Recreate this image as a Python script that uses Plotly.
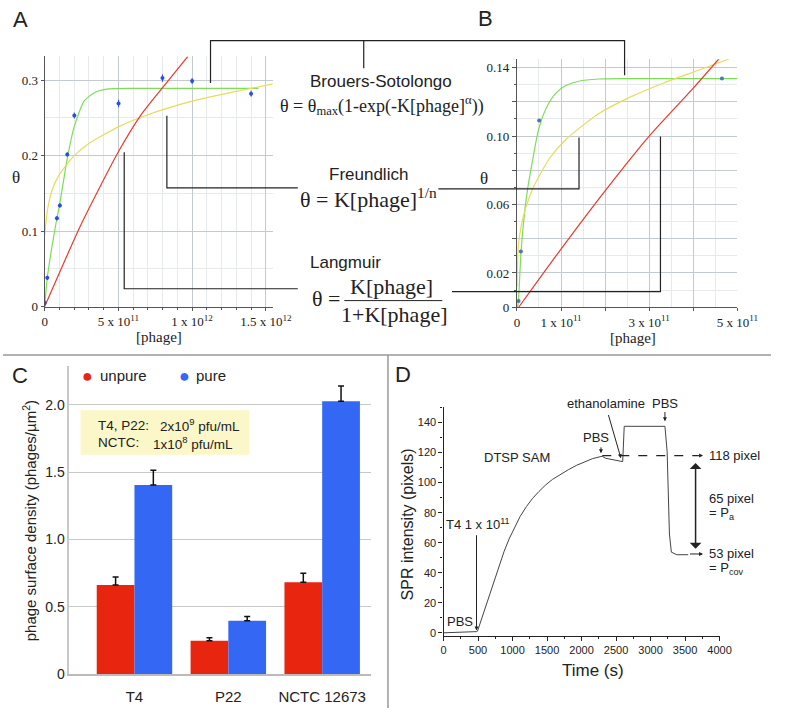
import plotly.graph_objects as go

W, H = 792, 716
SANS = "Liberation Sans, Arial, sans-serif"
SERIF = "Liberation Serif, Times New Roman, serif"


def px(x):
    return x / W


def py(y):
    return 1 - y / H


# ---------------- panel A: adsorption isotherm, theta vs [phage] ----------------
a_x = [0.0, 0.0175e12, 0.083e12, 0.103e12, 0.153e12, 0.201e12, 0.501e12, 0.799e12, 1.0e12, 1.40e12]
a_y = [0.005, 0.038, 0.117, 0.134, 0.2015, 0.253, 0.269, 0.3026, 0.2987, 0.282]
a_err = [0.003, 0.003, 0.003, 0.003, 0.003, 0.004, 0.005, 0.005, 0.004, 0.004]

a_bs_x = [0, 0.0175e12, 0.05e12, 0.083e12, 0.103e12, 0.153e12, 0.2e12, 0.267e12, 0.333e12, 0.42e12, 0.6e12, 1.0e12, 1.45e12]
a_bs_y = [0, 0.038, 0.08, 0.117, 0.137, 0.196, 0.238, 0.272, 0.283, 0.288, 0.289, 0.289, 0.289]

a_fr_x = [0.0005e12, 0.005e12, 0.02e12, 0.05e12, 0.1e12, 0.2e12, 0.3e12, 0.5e12, 0.7e12, 1.0e12, 1.25e12, 1.55e12]
a_fr_y = [0.095, 0.105, 0.129, 0.154, 0.175, 0.2, 0.216, 0.238, 0.254, 0.272, 0.283, 0.295]

a_la_x = [0, 0.25e12, 0.5e12, 0.65e12, 0.8e12, 0.97e12]
a_la_y = [0, 0.11, 0.205, 0.253, 0.29, 0.331]

# ---------------- panel B ----------------
b_x = [0.037e11, 0.089e11, 0.504e11, 4.65e11]
b_y = [0.0037, 0.0325, 0.109, 0.1336]

b_bs_x = [0, 0.02e11, 0.037e11, 0.06e11, 0.089e11, 0.13e11, 0.185e11, 0.26e11, 0.37e11, 0.45e11, 0.504e11,
          0.6e11, 0.74e11, 0.9e11, 1.11e11, 1.4e11, 1.85e11, 2.5e11, 5.0e11]
b_bs_y = [0, 0.001, 0.005, 0.016, 0.031, 0.044, 0.058, 0.072, 0.088, 0.099, 0.105,
          0.1125, 0.12, 0.1255, 0.1295, 0.132, 0.1333, 0.1335, 0.1335]

b_fr_x = [0.002e11, 0.03e11, 0.1e11, 0.2e11, 0.37e11, 0.74e11, 1.11e11, 1.85e11, 2.59e11, 3.33e11, 4.07e11, 4.81e11]
b_fr_y = [0.012, 0.035, 0.048, 0.058, 0.07, 0.087, 0.098, 0.113, 0.123, 0.131, 0.138, 0.145]

b_la_x = [0.04e11, 1.0e11, 2.0e11, 3.0e11, 4.0e11, 4.58e11]
b_la_y = [0, 0.034, 0.068, 0.1, 0.128, 0.145]

# ---------------- panel C: surface density bars ----------------
phages = ["T4", "P22", "NCTC 12673"]
unpure = [0.662, 0.248, 0.682]
unpure_err = [0.06, 0.022, 0.068]
pure = [1.404, 0.397, 2.027]
pure_err = [0.11, 0.03, 0.113]

# ---------------- panel D: SPR sensorgram ----------------
spr_t = [0, 250, 480, 492, 550, 642, 760, 876, 950, 1030, 1110, 1200, 1290, 1380, 1480, 1580, 1700, 1812,
         1930, 2046, 2160, 2281, 2300, 2350, 2450, 2584, 2596, 2618, 2700, 3000, 3208, 3240,
         3273, 3301, 3381, 3545]
spr_v = [0, 0.3, 0.8, 1.1, 9, 22, 39, 54, 62.5, 70.5, 77.5, 84, 89.5, 94, 98.5, 102.2, 105.8, 108.7,
         111.6, 114, 116, 117.4, 117.5, 116.2, 115.3, 114.5, 114, 137.5, 137.5, 137.5, 137.5, 120.6,
         65.8, 53.7, 52, 52]
level_before = 118
level_after = 53

GREEN, YELLOW, RED = "#7edc5a", "#e4dd58", "#e83a2c"
C_RED, C_BLUE = "#e8250f", "#3467f3"

fig = go.Figure()

# A
fig.add_trace(go.Scatter(x=a_bs_x, y=a_bs_y, mode="lines", line=dict(color=GREEN, width=1.2, shape="spline", smoothing=0.6),
                         xaxis="x", yaxis="y"))
fig.add_trace(go.Scatter(x=a_fr_x, y=a_fr_y, mode="lines", line=dict(color=YELLOW, width=1.2, shape="spline", smoothing=0.6),
                         xaxis="x", yaxis="y"))
fig.add_trace(go.Scatter(x=a_la_x, y=a_la_y, mode="lines", line=dict(color=RED, width=1.2, shape="spline", smoothing=0.6),
                         xaxis="x", yaxis="y"))
fig.add_trace(go.Scatter(x=a_x, y=a_y, mode="markers", marker=dict(color="#2a4fe0", size=4),
                         error_y=dict(type="data", array=a_err, color="#2a4fe0", thickness=1, width=0),
                         xaxis="x", yaxis="y"))

# B
fig.add_trace(go.Scatter(x=b_bs_x, y=b_bs_y, mode="lines", line=dict(color=GREEN, width=1.2, shape="spline", smoothing=0.5),
                         xaxis="x2", yaxis="y2"))
fig.add_trace(go.Scatter(x=b_fr_x, y=b_fr_y, mode="lines", line=dict(color=YELLOW, width=1.2, shape="spline", smoothing=0.6),
                         xaxis="x2", yaxis="y2"))
fig.add_trace(go.Scatter(x=b_la_x, y=b_la_y, mode="lines", line=dict(color=RED, width=1.2, shape="spline", smoothing=0.6),
                         xaxis="x2", yaxis="y2"))
fig.add_trace(go.Scatter(x=b_x, y=b_y, mode="markers", marker=dict(color="#4a78b0", size=4),
                         xaxis="x2", yaxis="y2"))

# C
fig.add_trace(go.Bar(x=phages, y=unpure, marker=dict(color=C_RED, line=dict(width=0)),
                     error_y=dict(type="data", array=unpure_err, arrayminus=[0] * 3, symmetric=False,
                                  color="#111", thickness=1.5, width=3),
                     xaxis="x3", yaxis="y3"))
fig.add_trace(go.Bar(x=phages, y=pure, marker=dict(color=C_BLUE, line=dict(width=0)),
                     error_y=dict(type="data", array=pure_err, arrayminus=[0] * 3, symmetric=False,
                                  color="#111", thickness=1.5, width=3),
                     xaxis="x3", yaxis="y3"))

# D
fig.add_trace(go.Scatter(x=spr_t, y=spr_v, mode="lines", line=dict(color="#444", width=1),
                         xaxis="x4", yaxis="y4"))
fig.add_trace(go.Scatter(x=[2300, 3700], y=[level_before, level_before], mode="lines",
                         line=dict(color="#222", width=1.2, dash="dash"), xaxis="x4", yaxis="y4"))

grid_major = "#c3cbd0"
grid_minor = "#e6eaec"
serif_tick = dict(family=SERIF, size=13, color="#222")

fig.update_layout(
    width=W, height=H, autosize=False,
    margin=dict(l=0, r=0, t=0, b=0),
    paper_bgcolor="white", plot_bgcolor="rgba(0,0,0,0)",
    showlegend=False,
    barmode="group", bargap=0.196, bargroupgap=0,
    xaxis=dict(domain=[px(43), px(278)], range=[0, 1.546e12], anchor="y",
               tickvals=[0, 5e11, 1e12, 1.5e12],
               ticktext=["0", "5 x 10<sup>11</sup>", "1 x 10<sup>12</sup>", "1.5 x 10<sup>12</sup>"],
               showgrid=True, gridcolor=grid_major, zeroline=False,
               showline=True, linecolor="#555", linewidth=1,
               ticks="outside", ticklen=3, tickcolor="#555", tickfont=serif_tick,
               minor=dict(dtick=1e11, tick0=0, showgrid=True, gridcolor=grid_minor, ticks="outside", ticklen=2)),
    yaxis=dict(domain=[py(310), py(57)], range=[0, 0.3314], anchor="x",
               tickvals=[0, 0.1, 0.2, 0.3], ticktext=["0", "0.1", "0.2", "0.3"],
               showgrid=True, gridcolor=grid_major, zeroline=False,
               showline=True, linecolor="#555", linewidth=1,
               ticks="outside", ticklen=3, tickcolor="#555", tickfont=serif_tick,
               minor=dict(dtick=0.05, tick0=0, showgrid=True, gridcolor=grid_minor)),
    xaxis2=dict(domain=[px(530), px(757.3)], range=[0, 5e11], anchor="y2",
                tickvals=[0, 1e11, 2e11, 3e11, 4e11, 5e11],
                ticktext=["0", "1 x 10<sup>11</sup>", "", "3 x 10<sup>11</sup>", "", "5 x 10<sup>11</sup>"],
                showgrid=True, gridcolor=grid_major, zeroline=False,
                showline=True, linecolor="#555", linewidth=1,
                ticks="outside", ticklen=3, tickcolor="#555", tickfont=serif_tick,
                minor=dict(dtick=0.5e11, tick0=0, showgrid=True, gridcolor=grid_minor)),
    yaxis2=dict(domain=[py(310.7), py(60)], range=[0, 0.1448], anchor="x2",
                tickvals=[0, 0.02, 0.04, 0.06, 0.08, 0.10, 0.12, 0.14],
                ticktext=["0", "0.02", "", "0.06", "", "0.10", "", "0.14"],
                showgrid=True, gridcolor=grid_major, zeroline=False,
                showline=True, linecolor="#555", linewidth=1,
                ticks="outside", ticklen=4, tickcolor="#555", tickfont=serif_tick,
                minor=dict(dtick=0.01, tick0=0, showgrid=True, gridcolor=grid_minor, ticks="outside", ticklen=2)),
    xaxis3=dict(domain=[px(68.3), px(379)], range=[-0.695, 2.515], anchor="y3", type="category",
                showgrid=False, zeroline=False, showline=True, linecolor="#bbb", linewidth=1.5,
                ticks="", ticklabelstandoff=8, tickfont=dict(family=SANS, size=15, color="#222")),
    yaxis3=dict(domain=[py(681.7), py(370)], range=[0, 2.29], anchor="x3",
                tickvals=[0, 0.5, 1.0, 1.5, 2.0], ticktext=["0", "0.5", "1.0", "1.5", "2.0"],
                showgrid=True, gridcolor="#c8c8c8", zeroline=False,
                showline=True, linecolor="#c8c8c8", linewidth=1.5,
                ticks="", tickfont=dict(family=SANS, size=14, color="#222")),
    xaxis4=dict(domain=[px(454.3), px(739)], range=[0, 4000], anchor="y4",
                tickvals=list(range(0, 4001, 500)),
                showgrid=False, zeroline=False, showline=True, linecolor="#222", linewidth=1.2,
                ticks="outside", ticklen=4, tickcolor="#222",
                tickfont=dict(family=SANS, size=11, color="#222"),
                minor=dict(dtick=250, tick0=0, ticks="outside", ticklen=2, tickcolor="#222")),
    yaxis4=dict(domain=[py(643.3), py(411.7)], range=[-2.2, 150.3], anchor="x4",
                tickvals=list(range(0, 141, 20)),
                showgrid=False, zeroline=False, showline=True, linecolor="#222", linewidth=1.2,
                ticks="outside", ticklen=4, tickcolor="#222",
                tickfont=dict(family=SANS, size=11, color="#222"),
                minor=dict(dtick=10, tick0=0, ticks="outside", ticklen=2, tickcolor="#222")),
)

annotations = []


def txt(x, y, s, size=14, family=SANS, xanchor="center", color="#222", **kw):
    annotations.append(dict(x=px(x), y=py(y), xref="paper", yref="paper", text=s, showarrow=False,
                            font=dict(size=size, family=family, color=color),
                            xanchor=xanchor, yanchor="middle", **kw))


# panel letters
txt(18, 20, "A", size=22)
txt(497.5, 19, "B", size=22)
txt(18, 380, "C", size=22)
txt(412.5, 379, "D", size=22)

# axis titles A / B
txt(13, 180, "θ", size=17, family=SERIF)
txt(496, 181, "θ", size=17, family=SERIF)
txt(161, 341, "[phage]", size=15, family=SERIF)
txt(650, 342, "[phage]", size=15, family=SERIF)

# model equations
txt(390, 82, "Brouers-Sotolongo", size=17)
txt(391, 107, "θ = θ<sub>max</sub>(1-exp(-K[phage]<sup>α</sup>))", size=18, family=SERIF)
txt(377, 176, "Freundlich", size=17)
txt(377, 200, "θ = K[phage]<sup>1/n</sup>", size=22, family=SERIF)
txt(353, 265, "Langmuir", size=17)
txt(333, 302, "θ =", size=22, family=SERIF)
txt(401, 290, "K[phage]", size=22, family=SERIF)
txt(403, 318, "1+K[phage]", size=22, family=SERIF)

# panel C texts
txt(27, 527, "phage surface density (phages/µm<sup>2</sup>)", size=15, textangle=-90)
txt(87, 380, "●", size=18, color=C_RED)
txt(98, 380, "unpure", size=15, xanchor="left")
txt(187, 380, "●", size=18, color=C_BLUE)
txt(197, 380, "pure", size=15, xanchor="left")
txt(96, 430, "T4, P22:", size=13.5, xanchor="left")
txt(160, 430, "2x10<sup>9</sup> pfu/mL", size=13.5, xanchor="left")
txt(96, 448, "NCTC:", size=13.5, xanchor="left")
txt(153, 448, "1x10<sup>8</sup> pfu/mL", size=13.5, xanchor="left")

# panel D texts
txt(608, 678, "Time (s)", size=17)
txt(417, 530, "SPR intensity (pixels)", size=16, textangle=-90)
txt(471, 629, "PBS", size=13)
txt(490, 530, "T4 1 x 10<sup>11</sup>", size=13)
txt(530, 463, "DTSP SAM", size=13)
txt(612, 442, "PBS", size=13)
txt(622, 408, "ethanolamine", size=13)
txt(683, 408, "PBS", size=13)
txt(726, 461, "118 pixel", size=13, xanchor="left")
txt(726, 504, "65 pixel", size=13, xanchor="left")
txt(726, 519, "= P<sub>a</sub>", size=13, xanchor="left")
txt(726, 560, "53 pixel", size=13, xanchor="left")
txt(726, 575, "= P<sub>cov</sub>", size=13, xanchor="left")


def arrow(x, y, ax, ay, head=2, size=0.8, width=1, side="end"):
    annotations.append(dict(x=x, y=y, ax=ax, ay=ay, xref="x4", yref="y4", axref="x4", ayref="y4",
                            text="", showarrow=True, arrowhead=head, arrowsize=size, arrowwidth=width,
                            arrowcolor="#222", arrowside=side))


arrow(478, 1.5, 478, 66)
arrow(2281, 119.5, 2281, 124.5)
arrow(2570, 116.3, 2383, 146)
arrow(3208, 140.8, 3208, 148)
arrow(3760, level_before, 3700, level_before)
arrow(3652, 56, 3652, 114, head=1, size=1.3, width=1.5, side="end+start")
arrow(3760, 52.5, 3549, 52.5)

fig.update_layout(annotations=annotations)

# connector lines between the equations and panels A / B, fraction bar, panel dividers
shapes = []


def seg(pts, color="#222", width=1.2):
    path = "M " + " L ".join(f"{px(x)},{py(y)}" for x, y in pts)
    shapes.append(dict(type="path", path=path, xref="paper", yref="paper",
                       line=dict(color=color, width=width)))


seg([(214, 84), (214, 41), (641, 41), (641, 76)])
seg([(372, 41), (372, 69)])
seg([(169, 117), (169, 190), (304, 190)])
seg([(449, 191), (594, 191), (594, 139)])
seg([(125, 154), (125, 292), (304, 292)])
seg([(463, 295), (678, 295), (678, 138)])
seg([(352, 304), (453, 304)], width=1)
seg([(0, 359), (792, 359)], color="#999", width=1.5)
seg([(397, 359), (397, 716)], color="#999", width=1.5)

# yellow note box in C
shapes.append(dict(type="rect", xref="paper", yref="paper", x0=px(80), x1=px(254), y0=py(460), y1=py(415),
                   fillcolor="#fbf7c8", line=dict(width=0), layer="below"))

fig.update_layout(shapes=shapes)

fig.write_html("out.html", config={"displayModeBar": False},
               post_script="document.body.style.margin='0';")
